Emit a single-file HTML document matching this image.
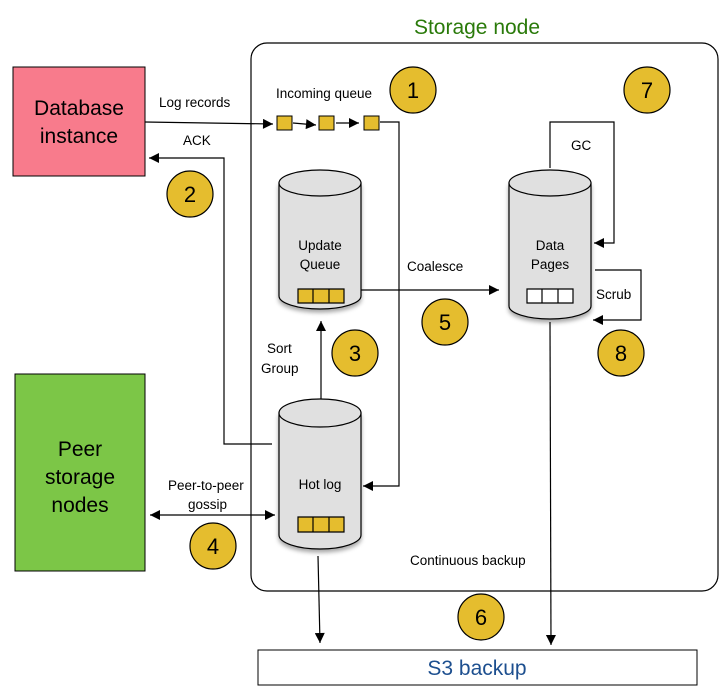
<!DOCTYPE html>
<html><head><style>body{margin:0;background:#fff}svg{display:block}text{font-family:"Liberation Sans",sans-serif}</style></head>
<body>
<svg width="727" height="694" viewBox="0 0 727 694" xmlns="http://www.w3.org/2000/svg">
<defs>
<marker id="a" viewBox="0 0 10 10" refX="10" refY="5" markerWidth="13" markerHeight="10" orient="auto-start-reverse" markerUnits="userSpaceOnUse"><path d="M0,0L10,5L0,10z" fill="#000"/></marker>
<filter id="sh" x="-20%" y="-20%" width="140%" height="140%"><feDropShadow dx="0" dy="3" stdDeviation="2" flood-opacity="0.35"/></filter>
</defs>
<text x="477" y="34" font-size="21" fill="#2a7a0a" text-anchor="middle">Storage node</text>
<rect x="251" y="43" width="467" height="548" rx="16" fill="none" stroke="#000" stroke-width="1.2"/>
<rect x="13" y="67" width="132" height="109" fill="#f87b8c" stroke="#000"/>
<text x="79" y="115" font-size="21" text-anchor="middle">Database</text>
<text x="79" y="143" font-size="21" text-anchor="middle">instance</text>
<rect x="15" y="374" width="130" height="197" fill="#7cc647" stroke="#000"/>
<text x="80" y="456" font-size="21" text-anchor="middle">Peer</text>
<text x="80" y="484" font-size="21" text-anchor="middle">storage</text>
<text x="80" y="512" font-size="21" text-anchor="middle">nodes</text>
<rect x="258" y="650" width="439" height="35" fill="#fff" stroke="#000"/>
<text x="477" y="675" font-size="21" fill="#1d4f8f" text-anchor="middle">S3 backup</text>
<g font-size="13.5">
<text x="159" y="107">Log records</text>
<text x="183" y="145">ACK</text>
<text x="276" y="98">Incoming queue</text>
<text x="407" y="271">Coalesce</text>
<text x="571" y="150">GC</text>
<text x="596" y="299">Scrub</text>
<text x="267" y="353">Sort</text>
<text x="261" y="373">Group</text>
<text x="168" y="490">Peer-to-peer</text>
<text x="188" y="509">gossip</text>
<text x="410" y="565">Continuous backup</text>
</g>
<g fill="none" stroke="#000" stroke-width="1.2">
<path d="M145,122L273,124" marker-end="url(#a)"/>
<path d="M293,123L316,125" marker-end="url(#a)"/>
<path d="M336,123L359,123" marker-end="url(#a)"/>
<path d="M380,122L399,122L399,486L363,486" marker-end="url(#a)"/>
<path d="M272,444L224,444L224,158L149,158" marker-end="url(#a)"/>
<path d="M321,399L321,321" marker-end="url(#a)"/>
<path d="M361,290L499,290" marker-end="url(#a)"/>
<path d="M550,168L550,122L614,122L614,243L594,243" marker-end="url(#a)"/>
<path d="M595,270L641,270L641,320L593,320" marker-end="url(#a)"/>
<path d="M150,515L275,515" marker-start="url(#a)" marker-end="url(#a)"/>
<path d="M318,556L320,643" marker-end="url(#a)"/>
<path d="M550,322L551,645" marker-end="url(#a)"/>
</g>
<g fill="#e5bd2e" stroke="#000"><rect x="277" y="116" width="15" height="14"/><rect x="319" y="116" width="15" height="14"/><rect x="364" y="116" width="15" height="14"/></g>
<g stroke="#000" stroke-width="1.2">
<g filter="url(#sh)"><path d="M279,183L279,296A41,13 0 0 0 361,296L361,183z" fill="#e0e0e0"/></g>
<ellipse cx="320" cy="183" rx="41" ry="13" fill="#e0e0e0"/>
<g filter="url(#sh)"><path d="M509,183L509,306A41,13 0 0 0 591,306L591,183z" fill="#e0e0e0"/></g>
<ellipse cx="550" cy="183" rx="41" ry="13" fill="#e0e0e0"/>
<g filter="url(#sh)"><path d="M279,413L279,535A41,14 0 0 0 361,535L361,413z" fill="#e0e0e0"/></g>
<ellipse cx="320" cy="413" rx="41" ry="14" fill="#e0e0e0"/>
<path d="M298,289h46v14h-46z M313,289v14 M329,289v14" fill="#e5bd2e"/>
<path d="M527,289h46v14h-46z M542,289v14 M558,289v14" fill="#fff"/>
<path d="M298,517h46v15h-46z M313,517v15 M329,517v15" fill="#e5bd2e"/>
</g>
<g font-size="13.5" text-anchor="middle">
<text x="320" y="250">Update</text><text x="320" y="269">Queue</text>
<text x="550" y="250">Data</text><text x="550" y="269">Pages</text>
<text x="320" y="489">Hot log</text>
</g>
<g fill="#e5bd2e" stroke="#000" stroke-width="1.2">
<circle cx="413" cy="90" r="23"/><circle cx="190" cy="194" r="23"/><circle cx="355" cy="353" r="23"/>
<circle cx="213" cy="546" r="23"/><circle cx="445" cy="322" r="23"/><circle cx="481" cy="617" r="23"/>
<circle cx="647" cy="90" r="23"/><circle cx="621" cy="353" r="23"/>
</g>
<g font-size="22" text-anchor="middle">
<text x="413" y="98">1</text><text x="190" y="202">2</text><text x="355" y="361">3</text>
<text x="213" y="554">4</text><text x="445" y="330">5</text><text x="481" y="625">6</text>
<text x="647" y="98">7</text><text x="621" y="361">8</text>
</g>
</svg>
</body></html>
